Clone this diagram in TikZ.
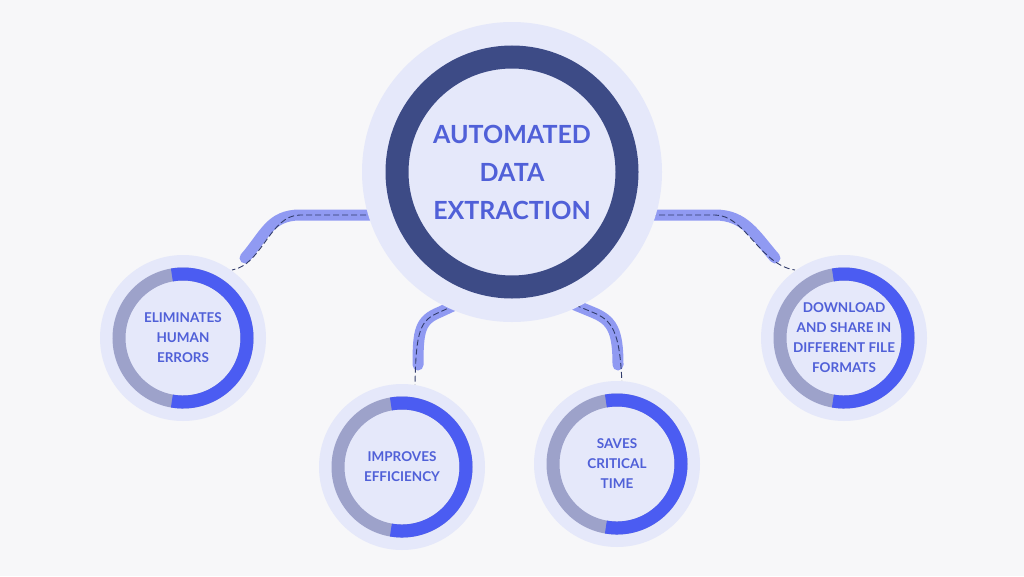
\documentclass[tikz,border=0pt]{standalone}
\usepackage{fontspec}
\setmainfont{Lato}
\definecolor{bg}{HTML}{F7F7F9}
\definecolor{disc}{HTML}{E5E8FA}
\definecolor{dark}{HTML}{3D4B86}
\definecolor{txt}{HTML}{5060D8}
\definecolor{ringb}{HTML}{4B5CF2}
\definecolor{ringg}{HTML}{9DA2CA}
\definecolor{conn}{HTML}{6E7BF0}
\tikzset{
  lbl/.style={font=\bfseries\fontsize{13.5}{20}\selectfont, text=txt, align=center},
  band/.style={draw=conn, line width=11pt, line cap=round, opacity=0.75},
  wire/.style={draw=dark!80!black, line width=0.9pt, dashed, dash pattern=on 6pt off 3pt},
}
\newcommand{\smallc}[3]{%
  \fill[disc] (#1) circle (83);
  \draw[ringg, line width=13pt] (#1) circle (64);
  \draw[ringb, line width=13pt] (#1) ++(100:64) arc (100:-100:64);
  \node[lbl] (#2) at (#1) {#3};
}
\begin{document}
\begin{tikzpicture}[x=1pt,y=-1pt]
\fill[bg] (0,0) rectangle (1024,576);
\useasboundingbox (0,0) rectangle (1024,576);
\coordinate (m) at (512,172);
\coordinate (c1) at (183,338);
\coordinate (c2) at (402,467);
\coordinate (c3) at (617,464);
\coordinate (c4) at (844,338);
% connectors
\coordinate (a1) at (375,215); \coordinate (a2) at (232,270);
\draw[band] (a1) -- (300,215) .. controls (270,215) and (265,235) .. (245,258);
\draw[wire] (a1) -- (300,215) .. controls (270,215) and (262,265) .. (a2);
\coordinate (b1) at (455,305); \coordinate (b2) at (415,385);
\draw[band] (b1) -- (440,312) .. controls (420,320) and (418,330) .. (418,365);
\draw[wire] (b1) -- (440,312) .. controls (420,320) and (416,330) .. (b2);
\coordinate (d1) at (575,305); \coordinate (d2) at (622,385);
\draw[band] (d1) -- (592,312) .. controls (612,320) and (618,330) .. (618,365);
\draw[wire] (d1) -- (592,312) .. controls (612,320) and (620,330) .. (d2);
\coordinate (e1) at (650,215); \coordinate (e2) at (795,270);
\draw[band] (e1) -- (715,215) .. controls (745,215) and (755,235) .. (775,258);
\draw[wire] (e1) -- (715,215) .. controls (745,215) and (760,265) .. (e2);
% main
\fill[disc] (m) circle (150);
\draw[dark, line width=23pt] (m) circle (115);
\node[lbl, font=\bfseries\fontsize{25}{38}\selectfont] (main) at (m) {AUTOMATED\\DATA\\EXTRACTION};
\smallc{c1}{n1}{ELIMINATES\\HUMAN\\ERRORS}
\smallc{c2}{n2}{IMPROVES\\EFFICIENCY}
\smallc{c3}{n3}{SAVES\\CRITICAL\\TIME}
\smallc{c4}{n4}{DOWNLOAD\\AND SHARE IN\\DIFFERENT FILE\\FORMATS}
\end{tikzpicture}
\end{document}
